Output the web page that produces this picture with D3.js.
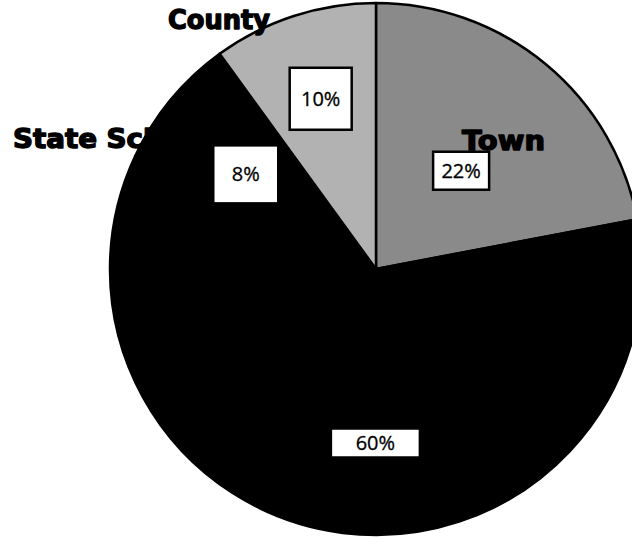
<!DOCTYPE html>
<html><head><meta charset="utf-8">
<script src="https://cdn.jsdelivr.net/npm/d3@7"></script>
<style>html,body{margin:0;padding:0;background:#fff;overflow:hidden} svg{display:block}</style>
</head><body>
<svg id="c" width="632" height="537"></svg>
<script>
// ---- data ----
const categories = ["Town", "", "State School", "County"];
const shares = [22, 60, 8, 10];
const valueLabels = ["22%", "60%", "8%", "10%"];

// ---- styles / layout ----
const sliceColors = ["#8a8a8a", "#000000", "#000000", "#b2b2b2"];
const labelRadius = [130, 174, 161, 179];
const labelNudgeDeg = [1.3, -7, -3.6, 0];
const boxSizes = [[56, 38], [89, 29], [65, 58], [62, 62]];
const catPos = [[462, 150, 83, 4], null, [13, 148, 130, 8], [168, 29, 102, 6]]; // x, baseline, width of first n chars, n

const W = 632, H = 537, cx = 376, cy = 269, R = 266;
const svg = d3.select("#c");
svg.append("rect").attr("width", W).attr("height", H).attr("fill", "#fff");
const g = svg.append("g").attr("transform", `translate(${cx},${cy})`);
const arcs = d3.pie().sort(null).value(d => d)(shares);
const arc = d3.arc().innerRadius(0).outerRadius(R);

g.selectAll("path.slice").data(arcs).join("path")
  .attr("class", "slice")
  .attr("d", arc)
  .attr("fill", (d, i) => sliceColors[i])
  .attr("stroke", "#000")
  .attr("stroke-width", 2.5)
  .attr("stroke-linejoin", "round");

// category labels (black, heavy)
categories.forEach((c, i) => {
  if (!c || !catPos[i]) return;
  const [x, y, w, n] = catPos[i];
  const t = svg.append("text")
    .attr("x", 0).attr("y", 0)
    .attr("font-family", "DejaVu Sans")
    .attr("font-weight", "bold")
    .attr("font-size", 26)
    .attr("fill", "#000")
    .attr("stroke", "#000").attr("stroke-width", 1.4)
    .attr("stroke-linejoin", "round")
    .text(c);
  const len = t.node().getSubStringLength(0, n);
  const sx = w / len;
  t.attr("transform", `translate(${x},${y}) scale(${sx},1)`);
});

// value labels in boxes
arcs.forEach((d, i) => {
  const a = (d.startAngle + d.endAngle) / 2 + labelNudgeDeg[i] * Math.PI / 180;
  const x = cx + labelRadius[i] * Math.sin(a);
  const y = cy - labelRadius[i] * Math.cos(a);
  const [bw, bh] = boxSizes[i];
  svg.append("rect")
    .attr("x", x - bw / 2).attr("y", y - bh / 2)
    .attr("width", bw).attr("height", bh)
    .attr("fill", "#fff").attr("stroke", "#000").attr("stroke-width", 2.5);
  svg.append("text")
    .attr("x", x).attr("y", y + 7)
    .attr("text-anchor", "middle")
    .attr("font-family", "Open Sans")
    .attr("font-size", 20)
    .attr("fill", "#000")
    .attr("stroke", "#000").attr("stroke-width", 0.3)
    .text(valueLabels[i]);
});
</script>
</body></html>
